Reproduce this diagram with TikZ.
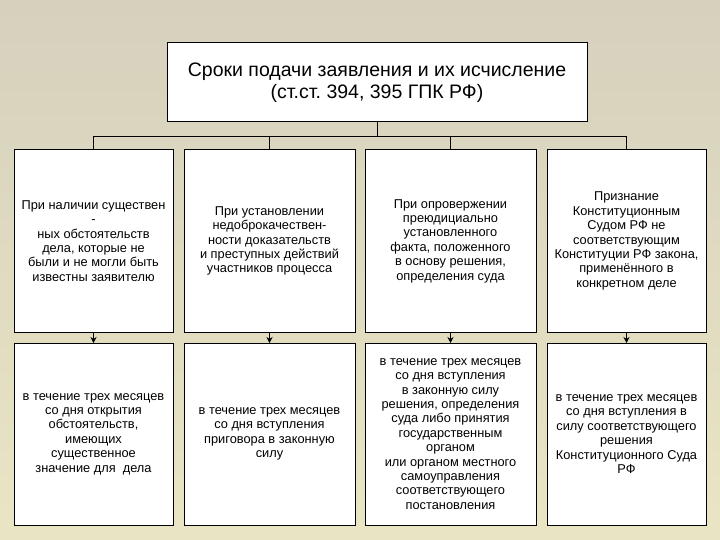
\documentclass[tikz,border=0pt]{standalone}
\usepackage{fontspec}
\setmainfont{Liberation Sans}
\usepackage{tikz}
\usetikzlibrary{positioning,arrows.meta}

\definecolor{bgtop}{RGB}{214,208,189}
\definecolor{bgbot}{RGB}{233,229,196}
\frenchspacing

\begin{document}
\begin{tikzpicture}[
    x=1pt, y=-1pt,
    node distance=11pt and 11pt,
    box/.style={rectangle, draw, fill=white, line width=1pt, inner sep=0pt, outer sep=0pt,
        minimum height=182pt, align=center, font=\fontsize{12.8}{14.4}\selectfont},
    wide/.style={box, minimum width=171pt},
    narrow/.style={box, minimum width=159pt},
    line/.style={line width=1pt},
    arrow/.style={line width=0.8pt, -{Stealth[length=6pt, width=6pt]}}
]

% Background
\shade[top color=bgtop, bottom color=bgbot] (0,0) rectangle (720,540);
\useasboundingbox (0,0) rectangle (720,540);

% Nodes
\node (top) [rectangle, draw, fill=white, line width=1pt, minimum width=420pt, minimum height=79pt,
    align=center, font=\fontsize{19.5}{22}\selectfont] at (377,82.5)
    {Сроки подачи заявления и их исчисление\\(ст.ст. 394, 395 ГПК РФ)};

\node (case1) [narrow] at (93.5,241)
    {При наличии существен\\-\\ных обстоятельств\\дела, которые не\\были и не могли быть\\известны заявителю};
\node (case2) [wide, right=of case1]
    {При установлении\\недоброкачествен-\\ности доказательств\\и преступных действий\\участников процесса};
\node (case3) [wide, right=10pt of case2]
    {При опровержении\\преюдициально\\установленного\\факта, положенного\\в основу решения,\\определения суда};
\node (case4) [narrow, right=of case3]
    {Признание\\Конституционным\\Судом РФ не\\соответствующим\\Конституции РФ закона,\\применённого в\\конкретном деле};

\node (term1) [narrow, below=of case1]
    {в течение трех месяцев\\со дня открытия\\обстоятельств,\\имеющих\\существенное\\значение для \ дела};
\node (term2) [wide, below=of case2]
    {в течение трех месяцев\\со дня вступления\\приговора в законную\\силу};
\node (term3) [wide, below=of case3]
    {в течение трех месяцев\\со дня вступления\\в законную силу\\решения, определения\\суда либо принятия\\государственным\\органом\\или органом местного\\самоуправления\\соответствующего\\постановления};
\node (term4) [narrow, below=of case4]
    {в течение трех месяцев\\со дня вступления в\\силу соответствующего\\решения\\Конституционного Суда\\РФ};

% Connectors
\foreach \c in {case1,case2,case3,case4}
    \draw[line] (top.south) -- ++(0,14) -| (\c.north);
\foreach \i in {1,2,3,4}
    \draw[arrow] (case\i) -- (term\i);

\end{tikzpicture}
\end{document}
